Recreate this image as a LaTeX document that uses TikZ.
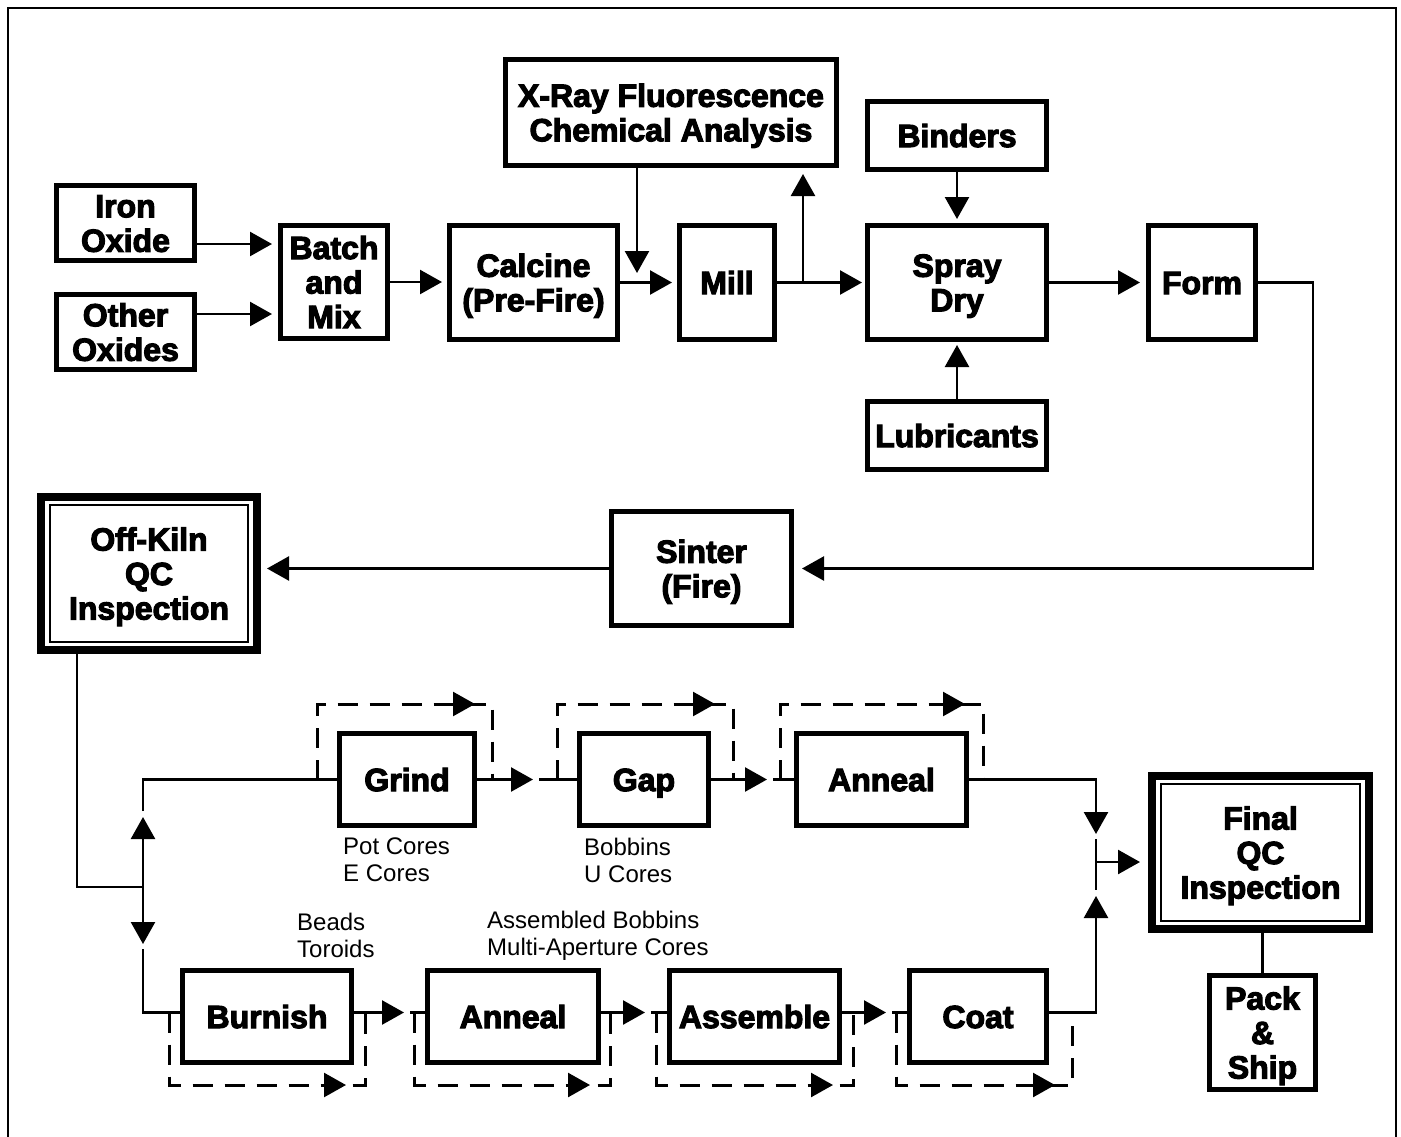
\documentclass[tikz,border=0pt]{standalone}
\usepackage{fontspec}
\setmainfont{Liberation Sans}[BoldFeatures={FakeBold=3.5}]
\usetikzlibrary{arrows.meta,calc}
\begin{document}
\begin{tikzpicture}[x=1pt,y=-1pt]
\tikzset{
 box/.style={draw, line width=5pt, inner sep=0pt, fill=white, align=center,
   font=\bfseries\fontsize{32}{34.5}\selectfont, text height=23pt, text depth=0pt},
 two/.style={text height=57.5pt},
 three/.style={text height=92pt},
 dblbox/.style={box, line width=8pt},
 conn/.style={line width=2.5pt},
 arr/.style={conn, -{Triangle[length=22pt,width=24pt]}},
 dashloop/.style={line width=3pt, dash pattern=on 20pt off 12pt},
 lbl/.style={font=\fontsize{24}{27}\selectfont, align=left, anchor=west, inner sep=0pt},
}
\useasboundingbox (0,0) rectangle (1401,1136);
\draw[line width=2pt] (8,1140) -- (8,8) -- (1396,8) -- (1396,1140);

% top section nodes
\node[box, two, minimum width=138pt, minimum height=75pt] (iron) at (125.5,223) {Iron\\Oxide};
\node[box, two, minimum width=138pt, minimum height=75pt] (other) at (125.5,332) {Other\\Oxides};
\node[box, three, minimum width=107pt, minimum height=113pt] (batch) at (334,282) {Batch\\and\\Mix};
\node[box, two, minimum width=168pt, minimum height=114pt] (calc) at (533.5,282.5) {Calcine\\(Pre-Fire)};
\node[box, two, minimum width=331pt, minimum height=106pt] (xray) at (671,112.5) {X-Ray Fluorescence\\Chemical Analysis};
\node[box, minimum width=95pt, minimum height=114pt] (mill) at (727,282.5) {Mill};
\node[box, minimum width=179pt, minimum height=68pt] (bind) at (957,135.5) {Binders};
\node[box, two, minimum width=179pt, minimum height=114pt] (spray) at (957,282.5) {Spray\\Dry};
\node[box, minimum width=179pt, minimum height=68pt] (lub) at (957,435.5) {Lubricants};
\node[box, minimum width=107pt, minimum height=114pt] (form) at (1202,282.5) {Form};
\node[box, two, minimum width=180pt, minimum height=114pt] (sint) at (701.5,568.5) {Sinter\\(Fire)};
\node[dblbox, three, minimum width=216pt, minimum height=153pt] (okqc) at (149,573.5) {Off-Kiln\\QC\\Inspection};
\draw[line width=2pt] ([shift={(13pt,-12pt)}]okqc.north west) rectangle ([shift={(-13pt,12pt)}]okqc.south east);

% lower section nodes
\node[box, minimum width=135pt, minimum height=92pt] (grind) at (407,779.5) {Grind};
\node[box, minimum width=129pt, minimum height=92pt] (gap) at (644,779.5) {Gap};
\node[box, minimum width=170pt, minimum height=92pt] (annt) at (881.5,779.5) {Anneal};
\node[box, minimum width=169pt, minimum height=92pt] (burn) at (267,1016.5) {Burnish};
\node[box, minimum width=171pt, minimum height=92pt] (annb) at (513,1016.5) {Anneal};
\node[box, minimum width=170pt, minimum height=92pt] (asm) at (754.5,1016.5) {Assemble};
\node[box, minimum width=137pt, minimum height=92pt] (coat) at (978,1016.5) {Coat};
\node[dblbox, three, minimum width=217pt, minimum height=153pt] (fqc) at (1260.5,852.5) {Final\\QC\\Inspection};
\draw[line width=2pt] ([shift={(13pt,-12pt)}]fqc.north west) rectangle ([shift={(-13pt,12pt)}]fqc.south east);
\node[box, three, minimum width=106pt, minimum height=114pt] (pack) at (1262.5,1032.5) {Pack\\\&\\Ship};

% labels
\node[lbl] (l1) at (343,860) {Pot Cores\\E Cores};
\node[lbl] (l2) at (584,860) {Bobbins\\U Cores};
\node[lbl] (l3) at (297,935) {Beads\\Toroids};
\node[lbl] (l4) at (487,936) {Assembled Bobbins\\Multi-Aperture Cores};

% top connectors
\coordinate (i1) at ([yshift=-21pt]iron.east);
\coordinate (o1) at ([yshift=18pt]other.east);
\draw[arr, shorten >=6pt] (i1) -- (i1 -| batch.west);
\draw[arr, shorten >=6pt] (o1) -- (o1 -| batch.west);
\draw[arr, shorten >=5pt] (batch.east) -- (batch.east -| calc.west);
\draw[arr, shorten >=5pt] (calc.east) -- (mill.west);
\coordinate (xt) at (637,273);
\draw[arr] (xt |- xray.south) -- (xt);
\draw[arr, shorten >=3pt] (mill.east) -- (spray.west);
\coordinate (mj) at (803,282.5);
\draw[arr, shorten >=6pt] (mj) -- (mj |- xray.south);
\draw[arr, shorten >=4pt] (bind.south) -- (spray.north);
\draw[arr, shorten >=3pt] (lub.north) -- (spray.south);
\draw[arr, shorten >=6pt] (spray.east) -- (form.west);
\coordinate (fr) at (1313,282.5);
\draw[arr, shorten >=8pt] (form.east) -- (fr) |- (sint.east);
\draw[arr, shorten >=6pt] (sint.west) -- (sint.west -| okqc.east);

% left junction
\coordinate (okd) at (77,887);
\coordinate (lj) at (143,887);
\coordinate (lu) at (143,817);
\coordinate (ld) at (143,944);
\coordinate (lu2) at (143,811);
\coordinate (ld2) at (143,949);
\draw[conn] (okd |- okqc.south) -- (okd) -- (lj);
\draw[arr] (lj) -- (lu);
\draw[arr] (lj) -- (ld);
\draw[conn] (lu2) |- (grind.west);
\draw[conn] (ld2) |- ([yshift=4pt]burn.west);

% top row chain
\coordinate (t1) at (533,779.5);
\coordinate (t2) at (767,779.5);
\draw[arr] (grind.east) -- (t1);
\draw[conn] ([xshift=6pt]t1) -- (gap.west);
\draw[arr] (gap.east) -- (t2);
\draw[conn] ([xshift=6pt]t2) -- (annt.west);

% bottom row chain
\coordinate (b1) at (404,1012.5);
\coordinate (b2) at (645,1012.5);
\coordinate (b3) at (886,1012.5);
\draw[arr] ([yshift=4pt]burn.east) -- (b1);
\draw[conn] ([xshift=6pt]b1) -- ([yshift=4pt]annb.west);
\draw[arr] ([yshift=4pt]annb.east) -- (b2);
\draw[conn] ([xshift=6pt]b2) -- ([yshift=4pt]asm.west);
\draw[arr] ([yshift=4pt]asm.east) -- (b3);
\draw[conn] ([xshift=6pt]b3) -- ([yshift=4pt]coat.west);

% right junction
\coordinate (rj) at (1096,862);
\coordinate (ru) at (1096,834);
\coordinate (rd) at (1096,896);
\coordinate (rb1) at (1096,839);
\coordinate (rb2) at (1096,890);
\draw[arr] (annt.east) -| (ru);
\draw[arr] ([yshift=4pt]coat.east) -| (rd);
\draw[conn] (rb1) -- (rb2);
\draw[arr, shorten >=8pt] (rj) -- (rj -| fqc.west);
\draw[conn] (pack.north |- fqc.south) -- (pack.north);

% dashed bypass loops
\foreach \l/\r/\t in {317/492/475, 557/733/715, 780/983/965} {
  \draw[dashloop] (\l,779.5) |- (\r,704) -- (\r,779.5);
  \draw[arr] (\t-23,704) -- (\t,704);
}
\foreach \l/\r/\t in {169/365/346, 414/610/590, 656/853/833, 896/1072/1055} {
  \draw[dashloop] (\l,1012.5) |- (\r,1085) -- (\r,1012.5);
  \draw[arr] (\t-23,1085) -- (\t,1085);
}
\end{tikzpicture}
\end{document}
